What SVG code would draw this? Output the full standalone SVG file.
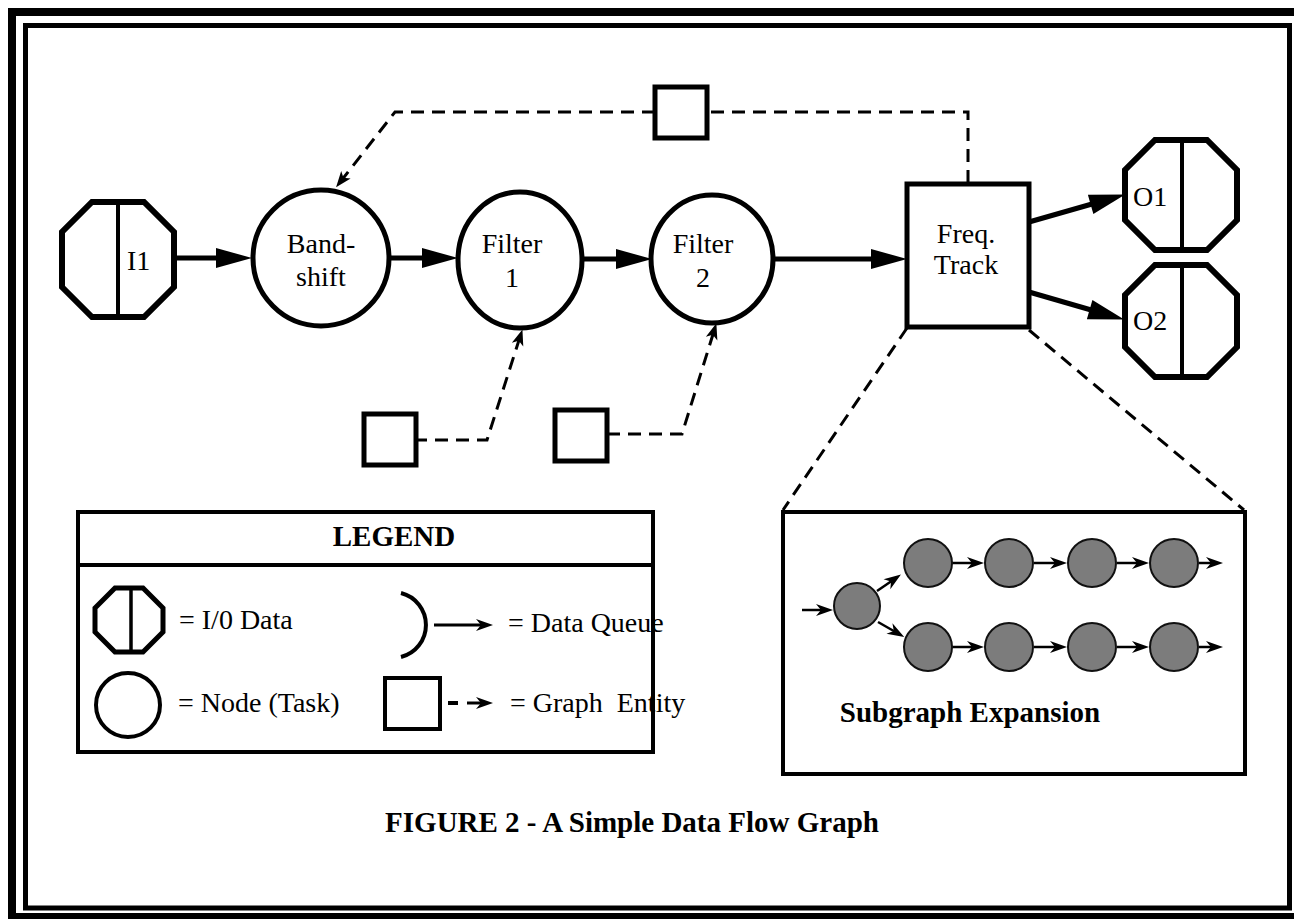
<svg xmlns="http://www.w3.org/2000/svg" width="1294" height="919" viewBox="0 0 1294 919">
<style>
.t{font-family:"Liberation Serif","Times New Roman",serif;font-size:28px;fill:#000}
.b{font-family:"Liberation Serif","Times New Roman",serif;font-weight:bold;font-size:29px;fill:#000}
.ol{fill:#fff;stroke:#000;stroke-width:6;stroke-linejoin:miter}
.nd{fill:#fff;stroke:#000;stroke-width:5}
.dv{stroke:#000;stroke-width:4}
.fl{stroke:#000;stroke-width:5;fill:none}
.ds{stroke:#000;stroke-width:3;fill:none;stroke-dasharray:13 8}
.sg{fill:#7c7c7c;stroke:#111;stroke-width:2}
.sa{stroke:#000;stroke-width:2.5;fill:none}
</style>
<defs>
<marker id="big" viewBox="-40 -12 42 24" refX="-20" refY="0" markerWidth="42" markerHeight="24" markerUnits="userSpaceOnUse" orient="auto">
<path d="M0,0 L-36,-10 L-36,10 Z" fill="#000"/>
</marker>
<marker id="dsh" viewBox="-20 -8 22 16" refX="-8" refY="0" markerWidth="22" markerHeight="16" markerUnits="userSpaceOnUse" orient="auto">
<path d="M0,0 L-16,-6 L-12,0 L-16,6 Z" fill="#000"/>
</marker>
<marker id="sm" viewBox="-20 -8 22 16" refX="-6" refY="0" markerWidth="22" markerHeight="16" markerUnits="userSpaceOnUse" orient="auto">
<path d="M0,0 L-17,-6 L-12,0 L-17,6 Z" fill="#000"/>
</marker>
</defs>
<rect width="1294" height="919" fill="#fff"/>
<rect x="12" y="12" width="1300" height="905" fill="none" stroke="#000" stroke-width="8"/>
<rect x="25.5" y="25.5" width="1264" height="882.5" fill="none" stroke="#000" stroke-width="5"/>

<g id="connectors">
<line class="fl" x1="174" y1="258" x2="232" y2="258" marker-end="url(#big)"/>
<line class="fl" x1="389" y1="258" x2="438" y2="258" marker-end="url(#big)"/>
<line class="fl" x1="583" y1="259" x2="632" y2="259" marker-end="url(#big)"/>
<line class="fl" x1="773" y1="259" x2="887" y2="259" marker-end="url(#big)"/>
<line class="fl" x1="1029" y1="222" x2="1106" y2="200" marker-end="url(#big)"/>
<line class="fl" x1="1029" y1="292" x2="1105" y2="314" marker-end="url(#big)"/>
<path class="ds" d="M968,183 L968,112 L707,112"/>
<path class="ds" d="M655,112 L395,112 L341,181" marker-end="url(#dsh)"/>
<path class="ds" d="M414,440 L487,440 L520,337" marker-end="url(#dsh)"/>
<path class="ds" d="M607,434 L682,434 L714,331" marker-end="url(#dsh)"/>
<line class="ds" x1="907" y1="328" x2="783" y2="510"/>
<line class="ds" x1="1029" y1="330" x2="1244" y2="510"/>
</g>

<g id="I1">
<polygon class="ol" points="92,202 144,202 174,232 174,287 144,317 92,317 62,287 62,232"/>
<line class="dv" x1="118" y1="202" x2="118" y2="317"/>
<text class="t" x="127" y="270">I1</text>
</g>
<g id="bandshift">
<circle class="nd" cx="321" cy="258" r="68"/>
<text class="t" x="321" y="253" text-anchor="middle">Band-</text>
<text class="t" x="321" y="286" text-anchor="middle">shift</text>
</g>
<g id="filter1">
<ellipse class="nd" cx="520" cy="260" rx="62" ry="68"/>
<text class="t" x="512" y="253" text-anchor="middle">Filter</text>
<text class="t" x="512" y="287" text-anchor="middle">1</text>
</g>
<g id="filter2">
<ellipse class="nd" cx="712" cy="259" rx="61" ry="64"/>
<text class="t" x="703" y="253" text-anchor="middle">Filter</text>
<text class="t" x="703" y="287" text-anchor="middle">2</text>
</g>
<g id="freqtrack">
<rect class="nd" x="907" y="184" width="122" height="143"/>
<text class="t" x="966" y="243" text-anchor="middle">Freq.</text>
<text class="t" x="966" y="274" text-anchor="middle">Track</text>
</g>
<g id="O1">
<polygon class="ol" points="1155,140 1207,140 1237,170 1237,220 1207,250 1155,250 1125,220 1125,170"/>
<line class="dv" x1="1182" y1="140" x2="1182" y2="250"/>
<text class="t" x="1133" y="206">O1</text>
</g>
<g id="O2">
<polygon class="ol" points="1155,265 1207,265 1237,295 1237,347 1207,377 1155,377 1125,347 1125,295"/>
<line class="dv" x1="1182" y1="265" x2="1182" y2="377"/>
<text class="t" x="1133" y="330">O2</text>
</g>
<g id="entity-top">
<rect class="nd" x="655" y="87" width="52" height="51" stroke-width="3"/>
</g>
<g id="entity-f1">
<rect class="nd" x="364" y="414" width="52" height="51" stroke-width="3"/>
</g>
<g id="entity-f2">
<rect class="nd" x="555" y="410" width="52" height="51" stroke-width="3"/>
</g>

<g id="legend">
<rect x="78" y="512" width="575" height="240" fill="none" stroke="#000" stroke-width="4"/>
<line x1="78" y1="565" x2="653" y2="565" stroke="#000" stroke-width="4"/>
<text class="b" x="394" y="546" text-anchor="middle">LEGEND</text>
<polygon points="115,588 143,588 163,608 163,632 143,652 115,652 95,632 95,608" fill="#fff" stroke="#000" stroke-width="5"/>
<line x1="131" y1="588" x2="131" y2="652" stroke="#000" stroke-width="3.5"/>
<text class="t" x="179" y="629">= I/0 Data</text>
<circle cx="128" cy="705" r="32" fill="#fff" stroke="#000" stroke-width="4"/>
<text class="t" x="178" y="712">= Node (Task)</text>
<path d="M401,593 A33,33 0 0 1 401,657" fill="none" stroke="#000" stroke-width="4"/>
<line x1="434" y1="625" x2="487" y2="625" stroke="#000" stroke-width="3" marker-end="url(#sm)"/>
<text class="t" x="508" y="632">= Data Queue</text>
<rect x="385" y="678" width="55" height="51" fill="#fff" stroke="#000" stroke-width="4"/>
<line x1="448" y1="703" x2="458" y2="703" stroke="#000" stroke-width="4"/>
<line x1="467" y1="703" x2="487" y2="703" stroke="#000" stroke-width="3" marker-end="url(#sm)"/>
<text class="t" x="510" y="712" xml:space="preserve">= Graph  Entity</text>
</g>

<g id="subgraph">
<rect x="783" y="512" width="462" height="262" fill="none" stroke="#000" stroke-width="4"/>
<line class="sa" x1="802" y1="610" x2="827" y2="610" marker-end="url(#sm)"/>
<line class="sa" x1="877" y1="591" x2="896" y2="578" marker-end="url(#sm)"/>
<line class="sa" x1="878" y1="622" x2="899" y2="634" marker-end="url(#sm)"/>
<line class="sa" x1="952" y1="563" x2="978" y2="563" marker-end="url(#sm)"/>
<line class="sa" x1="1034" y1="563" x2="1061" y2="563" marker-end="url(#sm)"/>
<line class="sa" x1="1117" y1="563" x2="1143" y2="563" marker-end="url(#sm)"/>
<line class="sa" x1="1199" y1="563" x2="1217" y2="563" marker-end="url(#sm)"/>
<line class="sa" x1="952" y1="647" x2="978" y2="647" marker-end="url(#sm)"/>
<line class="sa" x1="1034" y1="647" x2="1061" y2="647" marker-end="url(#sm)"/>
<line class="sa" x1="1117" y1="647" x2="1143" y2="647" marker-end="url(#sm)"/>
<line class="sa" x1="1199" y1="647" x2="1217" y2="647" marker-end="url(#sm)"/>
<circle class="sg" cx="857" cy="606" r="23"/>
<circle class="sg" cx="928" cy="563" r="24"/>
<circle class="sg" cx="1009" cy="563" r="24"/>
<circle class="sg" cx="1092" cy="563" r="24"/>
<circle class="sg" cx="1174" cy="563" r="24"/>
<circle class="sg" cx="928" cy="647" r="24"/>
<circle class="sg" cx="1009" cy="647" r="24"/>
<circle class="sg" cx="1092" cy="647" r="24"/>
<circle class="sg" cx="1174" cy="647" r="24"/>
<text class="b" x="970" y="722" text-anchor="middle">Subgraph Expansion</text>
</g>

<text class="b" x="632" y="832" text-anchor="middle">FIGURE 2 - A Simple Data Flow Graph</text>
</svg>
